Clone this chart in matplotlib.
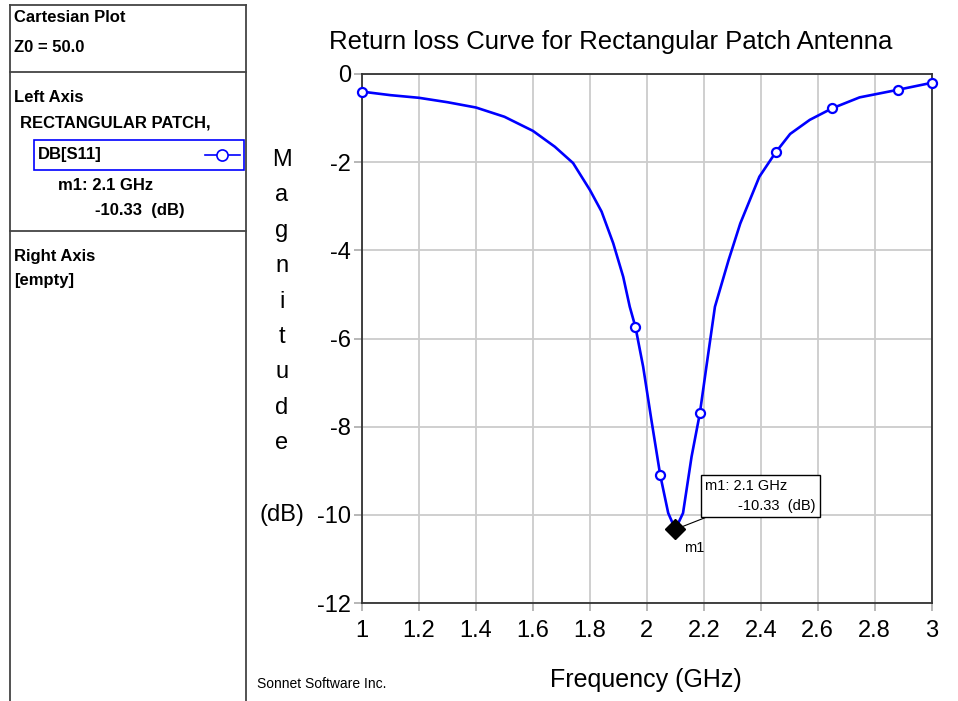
import matplotlib
matplotlib.use('Agg')
import matplotlib.pyplot as plt
from matplotlib.lines import Line2D
from matplotlib.patches import Rectangle

# DB[S11] of the rectangular patch
freq = [1.000, 1.100, 1.200, 1.300, 1.400, 1.500, 1.600, 1.677, 1.741, 1.800,
        1.841, 1.882, 1.917, 1.940, 1.960, 1.987, 2.016, 2.047, 2.075, 2.100,
        2.127, 2.157, 2.186, 2.209, 2.239, 2.287, 2.328, 2.395, 2.452, 2.503,
        2.572, 2.650, 2.747, 2.880, 3.000]
s11_db = [-0.40, -0.48, -0.54, -0.64, -0.76, -0.97, -1.29, -1.65, -2.02, -2.63,
          -3.12, -3.84, -4.60, -5.28, -5.74, -6.64, -7.85, -9.10, -9.96, -10.33,
          -9.96, -8.68, -7.70, -6.64, -5.28, -4.22, -3.39, -2.33, -1.78, -1.36,
          -1.04, -0.78, -0.53, -0.36, -0.20]
marker_idx = [0, 14, 17, 22, 28, 31, 33, 34]

m1_freq = 2.1
m1_val = -10.33

xticks = [1, 1.2, 1.4, 1.6, 1.8, 2, 2.2, 2.4, 2.6, 2.8, 3]
xlabels = ['1', '1.2', '1.4', '1.6', '1.8', '2', '2.2', '2.4', '2.6', '2.8', '3']
yticks = [0, -2, -4, -6, -8, -10, -12]

W, H = 958, 701
plt.rcParams['font.family'] = ['Liberation Sans', 'DejaVu Sans']
plt.rcParams['axes.unicode_minus'] = False

fig = plt.figure(figsize=(W / 100, H / 100), dpi=100)


def fx(x):
    return x / W


def fy(y):
    return 1 - y / H


# ---- plot area ----
ax = fig.add_axes([fx(362), fy(603), fx(931.7) - fx(362), fy(74) - fy(603)])
ax.plot(freq, s11_db, color='#0000ff', lw=1.9, zorder=3)
ax.plot([freq[i] for i in marker_idx], [s11_db[i] for i in marker_idx], 'o',
        color='#0000ff', mfc='white', ms=6.5, mew=1.6, zorder=4, clip_on=False)
ax.plot([m1_freq], [m1_val], 'D', color='black', ms=10, zorder=5)

ax.set_xlim(1, 3)
ax.set_ylim(-12, 0)
ax.set_xticks(xticks)
ax.set_xticklabels(xlabels)
ax.set_yticks(yticks)
ax.grid(True, color='#cccccc', lw=1.3)
ax.set_axisbelow(True)
for s in ax.spines.values():
    s.set_color('#333333')
    s.set_linewidth(1.3)
ax.tick_params(axis='both', colors='#aaaaaa', length=6, width=1.2, labelcolor='black',
               labelsize=17)
ax.tick_params(axis='x', pad=6)
ax.tick_params(axis='y', pad=2)

fig.text(fx(611), fy(42), 'Return loss Curve for Rectangular Patch Antenna',
         fontsize=18.5, ha='center', va='center')
fig.text(fx(646), fy(680), 'Frequency (GHz)', fontsize=18, ha='center', va='center')

# vertical y label, one letter per line
for i, ch in enumerate('Magnitude'):
    fig.text(fx(282), fy(160 + i * 35.4), ch, fontsize=17, ha='center', va='center')
fig.text(fx(282), fy(515), '(dB)', fontsize=17, ha='center', va='center')

# marker annotation
ax.annotate('m1: 2.1 GHz\n        -10.33  (dB)', xy=(m1_freq, m1_val),
            xytext=(705, H - 496), textcoords='figure pixels', fontsize=10.5,
            ha='left', va='center', linespacing=1.5,
            bbox=dict(boxstyle='square,pad=0.3', fc='white', ec='black', lw=1),
            arrowprops=dict(arrowstyle='-', color='black', lw=0.8, shrinkA=0, shrinkB=4))
fig.text(fx(694), fy(548), 'm1', fontsize=10.5, ha='center', va='center')

fig.text(fx(257), fy(684), 'Sonnet Software Inc.', fontsize=10, ha='left', va='center')

# ---- left info panel ----
lc = '#444444'
for (x0, y0, x1, y1) in [(10, 5, 10, 701), (246, 5, 246, 701), (10, 5, 246, 5),
                         (10, 72, 246, 72), (10, 231, 246, 231)]:
    fig.add_artist(Line2D([fx(x0), fx(x1)], [fy(y0), fy(y1)], color=lc, lw=1.3))

pk = dict(fontsize=12, fontweight='bold', ha='left', va='center')
fig.text(fx(14), fy(18), 'Cartesian Plot', **pk)
fig.text(fx(14), fy(47), 'Z0 = 50.0', **pk)
fig.text(fx(14), fy(98), 'Left Axis', **pk)
fig.text(fx(20), fy(123), 'RECTANGULAR PATCH,', **pk)
fig.add_artist(Rectangle((fx(34), fy(170)), fx(244) - fx(34), fy(140) - fy(170),
                         fill=False, ec='#0000ff', lw=1.2))
fig.text(fx(38), fy(155), 'DB[S11]', **pk)
fig.add_artist(Line2D([fx(205), fx(240)], [fy(155), fy(155)], color='#0000ff', lw=1.2))
fig.add_artist(Line2D([fx(222)], [fy(155)], marker='o', color='#0000ff', mfc='white',
                      ms=8, mew=1.2))
fig.text(fx(58), fy(185), 'm1: 2.1 GHz', **pk)
fig.text(fx(95), fy(211), '-10.33  (dB)', **pk)
fig.text(fx(14), fy(256), 'Right Axis', **pk)
fig.text(fx(14), fy(281), '[empty]', **pk)

fig.savefig('out.png', dpi=100)
